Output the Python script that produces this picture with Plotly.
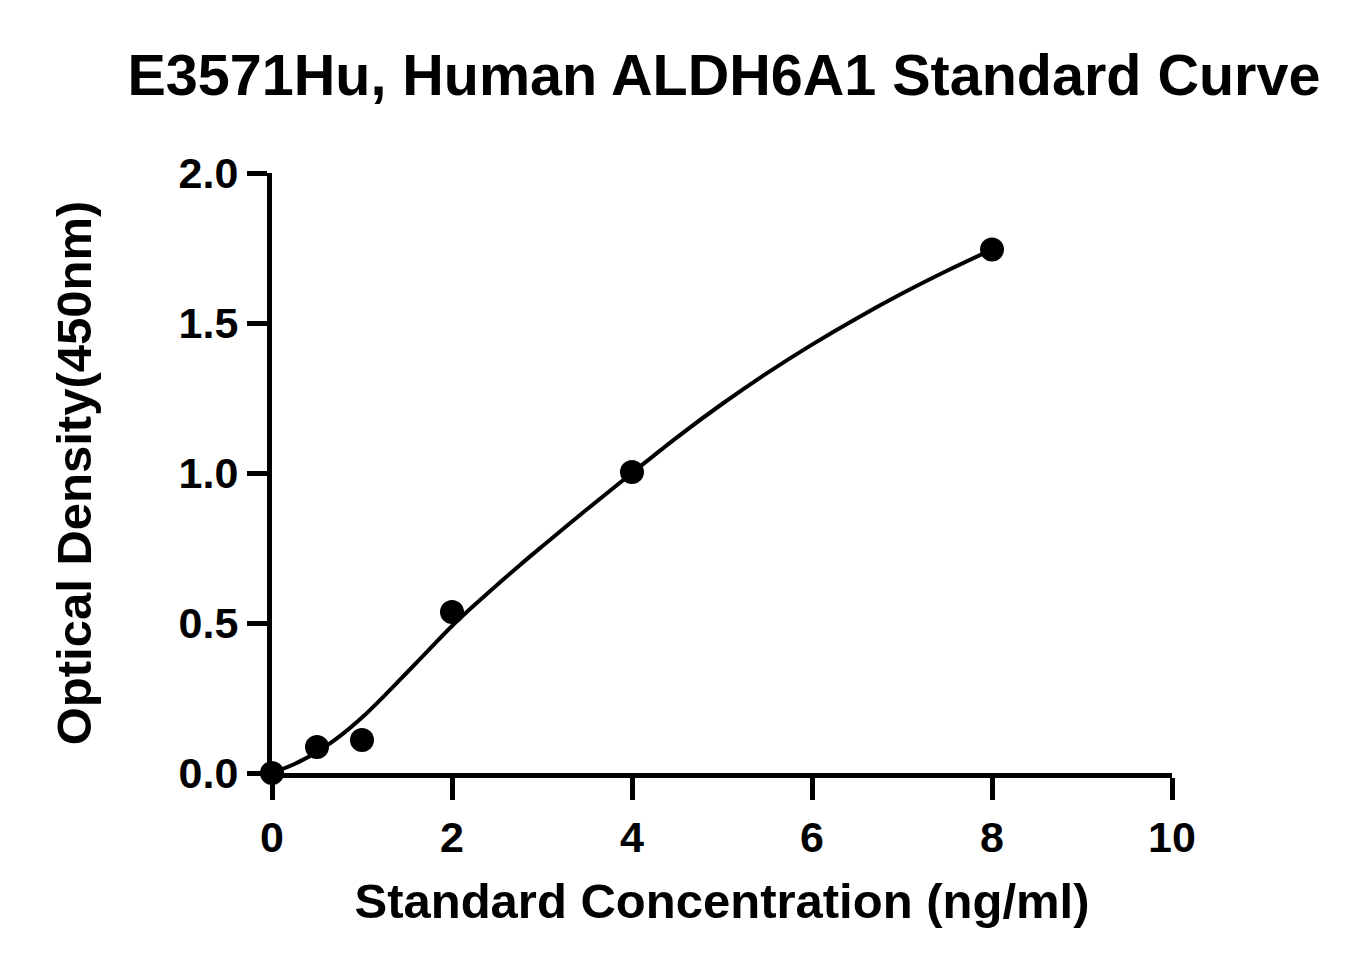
import plotly.graph_objects as go

# Measured standard points
conc = [0, 0.5, 1, 2, 4, 8]
od = [0.0, 0.087, 0.11, 0.537, 1.003, 1.745]

# Fitted curve
curve_x = [0, 0.25, 0.5, 0.75, 1, 1.25, 1.5, 1.75, 2, 2.25, 2.5, 2.75, 3, 3.5, 4,
           4.5, 5, 5.5, 6, 6.5, 7, 7.5, 8]
curve_y = [0.0, 0.03, 0.07, 0.122, 0.185, 0.258, 0.335, 0.413, 0.49, 0.56, 0.627, 0.692, 0.755, 0.879, 1.0,
           1.119, 1.23, 1.333, 1.428, 1.516, 1.598, 1.674, 1.745]

x_ticks = [0, 2, 4, 6, 8, 10]
y_ticks = [0.0, 0.5, 1.0, 1.5, 2.0]
y_tick_labels = ["0.0", "0.5", "1.0", "1.5", "2.0"]

FONT = "Liberation Sans, Arial, sans-serif"

fig = go.Figure()
fig.add_trace(go.Scatter(
    x=curve_x, y=curve_y, mode="lines",
    line=dict(color="black", width=4, shape="spline", smoothing=1.0),
    cliponaxis=False, hoverinfo="skip", showlegend=False,
))
fig.add_trace(go.Scatter(
    x=conc, y=od, mode="markers",
    marker=dict(color="black", size=24),
    cliponaxis=False, showlegend=False,
))

fig.update_layout(
    width=1365, height=975,
    paper_bgcolor="white", plot_bgcolor="white",
    margin=dict(l=264, r=201, t=165, b=210),
    font=dict(family=FONT, color="black"),
    title=dict(
        text="E3571Hu, Human ALDH6A1 Standard Curve",
        x=0.5245, xanchor="center", y=0.931, yanchor="middle",
        font=dict(size=57.5, weight="bold", family=FONT, color="black"),
    ),
    xaxis=dict(
        range=[0, 10], tickvals=x_ticks, ticktext=[str(v) for v in x_ticks],
        showgrid=False, zeroline=False,
        showline=True, linecolor="black", linewidth=5,
        ticks="outside", ticklen=22, tickwidth=5, tickcolor="black",
        tickfont=dict(size=43, weight="bold", family=FONT),
        title=dict(text="Standard Concentration (ng/ml)", standoff=26,
                   font=dict(size=49, weight="bold", family=FONT)),
    ),
    yaxis=dict(
        range=[0, 2.0], tickvals=y_ticks, ticktext=y_tick_labels,
        showgrid=False, zeroline=False,
        showline=True, linecolor="black", linewidth=5,
        ticks="outside", ticklen=20, tickwidth=5, tickcolor="black",
        tickfont=dict(size=43, weight="bold", family=FONT),
        title=dict(text="Optical Density(450nm)", standoff=73,
                   font=dict(size=49, weight="bold", family=FONT)),
    ),
)

fig.write_html("out.html")
